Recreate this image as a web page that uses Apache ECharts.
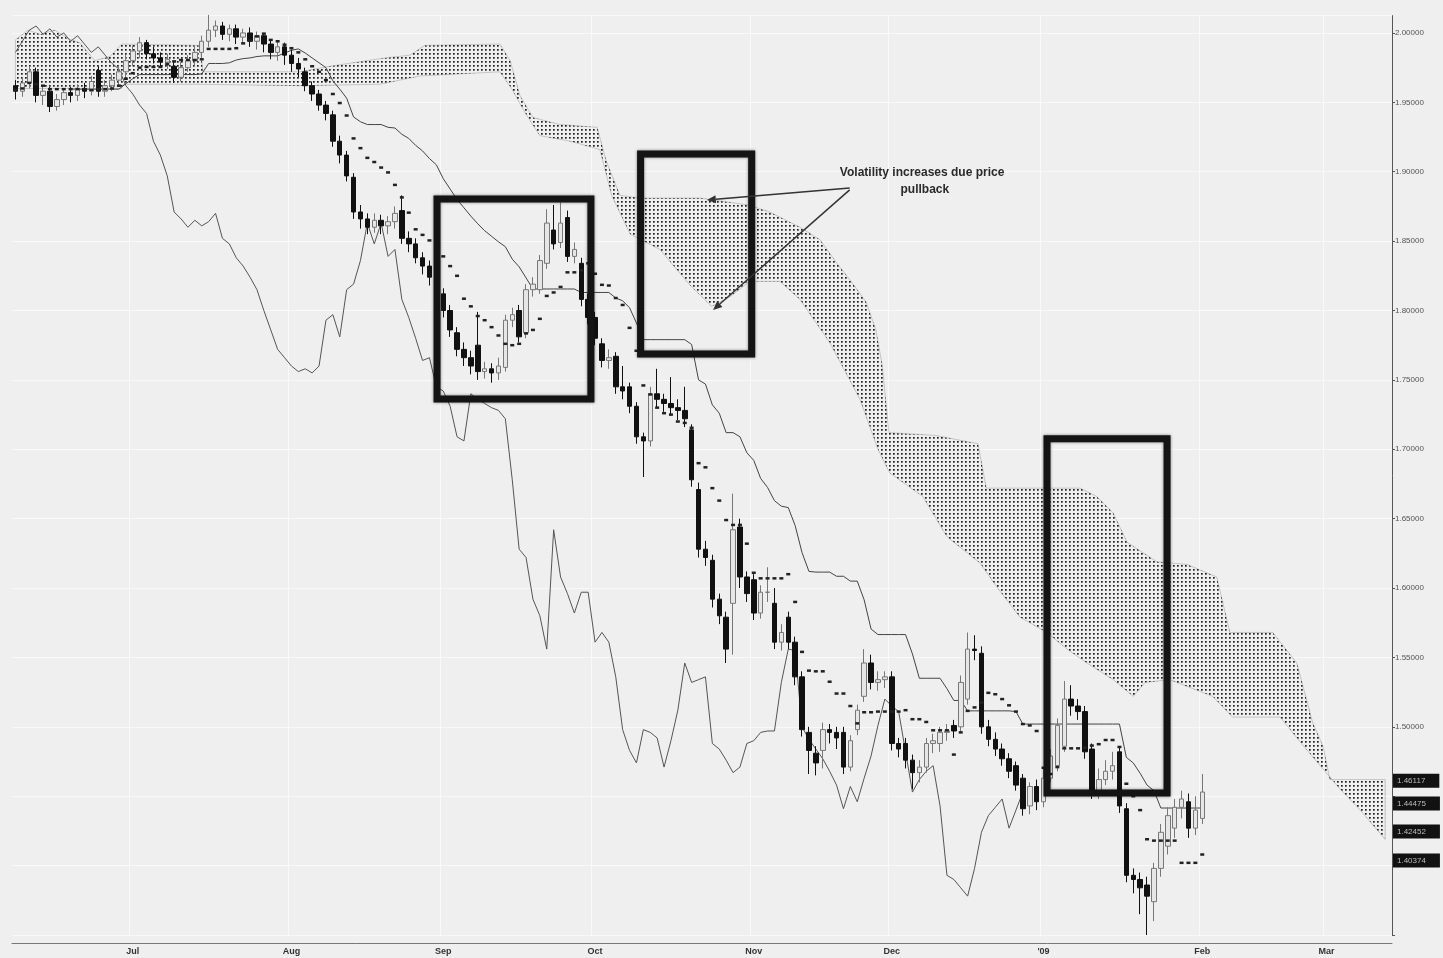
<!DOCTYPE html>
<html>
<head>
<meta charset="utf-8">
<script src="https://cdn.jsdelivr.net/npm/echarts@6/dist/echarts.min.js"></script>
<style>
html, body { margin: 0; padding: 0; background: #efefef; }
#main { width: 1443px; height: 958px; }
</style>
</head>
<body>
<div id="main"></div>
<script>
// daily bars: [open, close, low, high]
var ohlc = [
  [1.962,1.958,1.952,1.966],[1.958,1.964,1.954,1.968],[1.964,1.972,1.960,1.976],[1.972,1.955,1.950,1.975],
  [1.955,1.958,1.948,1.962],[1.958,1.947,1.943,1.961],[1.947,1.952,1.944,1.956],[1.952,1.957,1.948,1.960],
  [1.957,1.955,1.950,1.961],[1.955,1.960,1.951,1.963],[1.960,1.958,1.953,1.964],[1.958,1.965,1.955,1.969],
  [1.973,1.958,1.954,1.976],[1.958,1.962,1.954,1.966],[1.962,1.966,1.958,1.970],[1.966,1.972,1.962,1.976],
  [1.972,1.980,1.968,1.984],[1.980,1.987,1.976,1.991],[1.987,1.993,1.982,1.997],[1.993,1.985,1.981,1.995],
  [1.985,1.982,1.978,1.990],[1.982,1.979,1.975,1.986],[1.979,1.981,1.974,1.985],[1.976,1.968,1.964,1.980],
  [1.968,1.975,1.965,1.979],[1.975,1.980,1.972,1.984],[1.980,1.986,1.976,1.990],[1.986,1.994,1.982,1.998],
  [1.994,2.002,1.990,2.013],[2.002,2.005,1.997,2.009],[2.005,1.999,1.995,2.008],[1.999,2.003,1.994,2.006],
  [2.003,1.997,1.992,2.006],[1.997,2.000,1.992,2.003],[2.000,1.994,1.990,2.004],[1.994,1.998,1.988,2.001],
  [1.998,1.992,1.986,2.000],[1.992,1.986,1.981,1.995],[1.986,1.990,1.980,1.994],[1.990,1.984,1.977,1.993],
  [1.984,1.978,1.972,1.988],[1.978,1.974,1.968,1.982],[1.972,1.962,1.958,1.975],[1.962,1.956,1.951,1.965],
  [1.956,1.948,1.944,1.959],[1.948,1.942,1.937,1.951],[1.941,1.922,1.918,1.944],[1.922,1.912,1.906,1.926],
  [1.912,1.897,1.893,1.915],[1.896,1.871,1.866,1.899],[1.871,1.866,1.859,1.876],[1.866,1.860,1.855,1.870],
  [1.860,1.865,1.856,1.870],[1.865,1.861,1.855,1.869],[1.861,1.864,1.855,1.868],[1.864,1.870,1.859,1.875],
  [1.872,1.852,1.848,1.883],[1.852,1.848,1.842,1.857],[1.848,1.838,1.834,1.852],[1.838,1.832,1.826,1.842],
  [1.832,1.824,1.818,1.836],[1.824,1.815,1.810,1.828],[1.812,1.800,1.795,1.816],[1.800,1.786,1.781,1.804],
  [1.784,1.772,1.767,1.788],[1.772,1.766,1.760,1.777],[1.766,1.760,1.754,1.771],[1.775,1.756,1.750,1.799],
  [1.756,1.758,1.751,1.763],[1.758,1.755,1.748,1.762],[1.755,1.760,1.750,1.766],[1.759,1.793,1.756,1.797],
  [1.793,1.797,1.788,1.802],[1.800,1.781,1.777,1.804],[1.784,1.815,1.780,1.819],[1.815,1.819,1.810,1.824],
  [1.815,1.836,1.812,1.840],[1.834,1.863,1.830,1.873],[1.858,1.848,1.844,1.876],[1.849,1.863,1.845,1.878],
  [1.867,1.839,1.835,1.872],[1.839,1.844,1.834,1.849],[1.834,1.808,1.803,1.838],[1.808,1.795,1.790,1.812],
  [1.795,1.780,1.775,1.799],[1.776,1.764,1.759,1.780],[1.764,1.766,1.758,1.772],[1.767,1.745,1.740,1.770],
  [1.745,1.742,1.736,1.760],[1.745,1.731,1.726,1.748],[1.731,1.709,1.704,1.734],[1.709,1.706,1.680,1.712],
  [1.706,1.740,1.702,1.745],[1.740,1.736,1.730,1.758],[1.736,1.733,1.727,1.740],[1.733,1.730,1.724,1.752],
  [1.730,1.728,1.721,1.736],[1.728,1.722,1.716,1.745],[1.714,1.678,1.673,1.718],[1.671,1.628,1.622,1.676],
  [1.628,1.622,1.616,1.634],[1.620,1.592,1.586,1.624],[1.592,1.580,1.574,1.596],[1.579,1.556,1.546,1.583],
  [1.589,1.642,1.552,1.668],[1.644,1.608,1.600,1.650],[1.608,1.596,1.590,1.612],[1.606,1.582,1.577,1.610],
  [1.582,1.597,1.578,1.602],[1.597,1.597,1.590,1.615],[1.589,1.561,1.556,1.600],[1.561,1.568,1.555,1.574],
  [1.579,1.561,1.556,1.583],[1.561,1.536,1.530,1.565],[1.536,1.498,1.493,1.540],[1.496,1.483,1.466,1.500],
  [1.481,1.474,1.465,1.486],[1.483,1.498,1.470,1.503],[1.498,1.496,1.488,1.502],[1.496,1.492,1.484,1.500],
  [1.496,1.471,1.466,1.500],[1.471,1.490,1.468,1.494],[1.498,1.512,1.494,1.516],[1.522,1.546,1.518,1.556],
  [1.546,1.532,1.527,1.552],[1.532,1.534,1.526,1.540],[1.534,1.536,1.528,1.540],[1.536,1.488,1.483,1.540],
  [1.488,1.484,1.478,1.492],[1.488,1.476,1.470,1.492],[1.476,1.467,1.455,1.480],[1.467,1.471,1.460,1.476],
  [1.471,1.488,1.467,1.492],[1.488,1.490,1.481,1.495],[1.488,1.496,1.482,1.500],[1.496,1.497,1.490,1.502],
  [1.501,1.497,1.492,1.505],[1.500,1.532,1.496,1.537],[1.520,1.556,1.516,1.568],[1.556,1.555,1.548,1.566],
  [1.553,1.500,1.495,1.558],[1.500,1.491,1.486,1.505],[1.491,1.484,1.479,1.496],[1.484,1.477,1.472,1.488],
  [1.477,1.468,1.463,1.481],[1.472,1.458,1.454,1.475],[1.463,1.441,1.436,1.466],[1.443,1.457,1.437,1.460],
  [1.457,1.446,1.440,1.462],[1.446,1.463,1.442,1.470],[1.463,1.479,1.460,1.484],[1.472,1.501,1.468,1.506],
  [1.486,1.520,1.482,1.533],[1.520,1.515,1.508,1.530],[1.515,1.511,1.505,1.520],[1.511,1.482,1.477,1.515],
  [1.484,1.453,1.448,1.488],[1.453,1.462,1.448,1.470],[1.462,1.468,1.458,1.476],[1.468,1.472,1.462,1.482],
  [1.482,1.443,1.438,1.486],[1.441,1.393,1.388,1.445],[1.393,1.390,1.380,1.398],[1.390,1.384,1.365,1.395],
  [1.386,1.378,1.350,1.392],[1.374,1.398,1.360,1.402],[1.398,1.424,1.392,1.430],[1.414,1.436,1.408,1.442],
  [1.427,1.442,1.420,1.448],[1.442,1.448,1.434,1.454],[1.446,1.427,1.420,1.452],[1.427,1.440,1.422,1.450],
  [1.434,1.453,1.430,1.466]
];

// cloud edges: [day index, price]
var cloudTop = [
  [0,1.995],[1.8,2.002],[3.6,1.999],[5.7,2.002],[7.6,1.996],[9.3,1.993],[11.5,1.980],[13.7,1.983],
  [15.4,1.992],[26.7,1.991],[27.2,1.972],[41.2,1.972],[45.6,1.976],[53.6,1.982],[57.2,1.984],[59.3,1.991],
  [70.2,1.992],[71.7,1.980],[73.1,1.955],[75.0,1.939],[78.9,1.934],[84.3,1.932],[85.6,1.908],[87.6,1.883],
  [90.5,1.881],[99.2,1.881],[106.2,1.876],[109.3,1.871],[113.7,1.860],[116.6,1.851],[118.9,1.835],[121.1,1.821],
  [123.3,1.806],[124.7,1.786],[125.6,1.761],[126.6,1.712],[133.3,1.710],[139.5,1.704],[140.7,1.672],[154.3,1.672],
  [156.7,1.666],[159.1,1.654],[161.1,1.633],[165.4,1.619],[169.8,1.617],[174.1,1.608],[176.0,1.568],[182.2,1.568],
  [185.7,1.546],[188.0,1.503],[189.5,1.486],[190.5,1.462],[198.5,1.462]
];
var cloudBottom = [
  [0,1.960],[15.4,1.960],[15.6,1.963],[26.7,1.963],[41.2,1.962],[52.8,1.963],[58.6,1.969],[70.2,1.972],
  [71.9,1.960],[73.8,1.943],[76.0,1.926],[80.4,1.922],[84.7,1.916],[86.4,1.883],[89.1,1.855],[93.4,1.844],
  [97.8,1.818],[100.9,1.803],[103.6,1.810],[106.4,1.821],[110.8,1.821],[113.7,1.808],[118.0,1.777],[122.4,1.736],
  [125.0,1.700],[126.7,1.683],[131.5,1.666],[135.0,1.637],[139.8,1.618],[142.2,1.601],[145.6,1.579],[149.5,1.568],
  [152.4,1.556],[155.3,1.546],[159.1,1.534],[162.0,1.522],[163.7,1.532],[167.3,1.534],[173.5,1.522],[176.4,1.507],
  [183.3,1.507],[186.2,1.489],[192.0,1.455],[194.9,1.440],[198.5,1.419]
];

var monthIdx = [17, 40, 62, 84, 107, 127, 149, 172, 190];
var monthNames = ['Jul', 'Aug', 'Sep', 'Oct', 'Nov', 'Dec', "'09", 'Feb', 'Mar'];
var priceTags = [1.46117, 1.44475, 1.42452, 1.40374];

// annotations: boxes [i0, top, i1, bottom], note text, arrows [from, to]
var boxes = [[61.1, 1.8804, 83.4, 1.7363], [90.6, 1.9128, 106.7, 1.7687], [149.5, 1.7075, 166.9, 1.4524]];
var noteLines = ['Volatility increases due price', 'pullback'];
var noteAt = [[131.4, 1.8992], [131.8, 1.8870]];
var arrows = [[[120.9, 1.8883], [100.2, 1.8797]], [[120.9, 1.8869], [101.1, 1.8004]]];

var N = 200;
var cats = [];
for (var i = 0; i < N; i++) cats.push(String(i));

// ichimoku lines from the bars
function midLine(period) {
  return ohlc.map(function (d, i) {
    var hi = -Infinity, lo = Infinity;
    for (var k = Math.max(0, i - period + 1); k <= i; k++) {
      hi = Math.max(hi, ohlc[k][3]);
      lo = Math.min(lo, ohlc[k][2]);
    }
    return +((hi + lo) / 2).toFixed(4);
  });
}
var tenkan = midLine(9);
var kijun = midLine(26).map(function (v, i) { return i < 8 ? '-' : v; });
var chikou = [];
for (var j = 0; j + 26 < ohlc.length; j++) chikou.push(ohlc[j + 26][1]);

// dotted fill for the cloud
var cv = document.createElement('canvas');
cv.width = 4; cv.height = 4;
var cx = cv.getContext('2d');
cx.fillStyle = '#1e1e1e';
cx.fillRect(1, 1, 1.7, 1.7);
var dots = { image: cv, repeat: 'repeat' };

var myChart = echarts.init(document.getElementById('main'));
var option = {
  animation: false,
  backgroundColor: '#efefef',
  grid: { left: 12, right: 51, top: 15.6, bottom: 23 },
  xAxis: [{
    type: 'category',
    data: cats,
    offset: 8,
    axisLine: { lineStyle: { color: '#777' } },
    axisTick: { interval: function (i) { return i % 5 === 2; }, length: 3, lineStyle: { color: '#777' } },
    axisLabel: {
      interval: function (i) { return monthIdx.indexOf(i) >= 0; },
      formatter: function (v, i) { var k = monthIdx.indexOf(i); return k >= 0 ? monthNames[k] : ''; },
      fontSize: 9, fontWeight: 'bold', color: '#333', margin: 4,
      fontFamily: 'Liberation Sans'
    },
    splitLine: { show: true, interval: function (i) { return monthIdx.indexOf(i) >= 0; }, lineStyle: { color: '#f9f9f9' } }
  }, {
    type: 'value', min: -0.5, max: N - 0.5, show: false
  }],
  yAxis: {
    type: 'value',
    position: 'right',
    min: 1.35, max: 2.0125, interval: 0.05,
    axisLine: { show: true, onZero: false, lineStyle: { color: '#555' } },
    axisTick: { show: true, length: 3, lineStyle: { color: '#555' } },
    axisLabel: {
      fontSize: 8, color: '#555', margin: 3, showMaxLabel: false,
      fontFamily: 'Liberation Sans',
      formatter: function (v) { return (v > 1.4999 && v < 2.0001) ? v.toFixed(5) : ''; }
    },
    splitLine: { lineStyle: { color: '#f9f9f9' } }
  },
  series: [
    {
      name: 'cloud',
      type: 'custom',
      xAxisIndex: 1,
      data: [[100, 1.8]],
      silent: true,
      z: 1,
      renderItem: function (params, api) {
        var pts = cloudTop.map(function (p) { return api.coord(p); });
        var low = cloudBottom.slice().reverse().map(function (p) { return api.coord(p); });
        return {
          type: 'polygon',
          shape: { points: pts.concat(low) },
          style: { fill: dots, stroke: 'rgba(60,60,60,0.4)', lineWidth: 0.6 }
        };
      }
    },
    {
      name: 'chikou',
      type: 'line',
      data: chikou,
      showSymbol: false,
      lineStyle: { color: '#555', width: 1 },
      z: 2
    },
    {
      name: 'kijun',
      type: 'line',
      data: kijun,
      showSymbol: false,
      lineStyle: { color: '#444', width: 1 },
      z: 2
    },
    {
      name: 'price',
      type: 'candlestick',
      data: ohlc,
      barWidth: 5,
      z: 3,
      itemStyle: {
        color: '#e6e6e6', color0: '#111',
        borderColor: '#777', borderColor0: '#111', borderWidth: 1
      },
      markLine: {
        silent: true,
        symbol: ['none', 'none'],
        precision: 5,
        lineStyle: { width: 1, color: 'rgba(0,0,0,0)' },
        label: {
          show: true, position: 'end', distance: 1,
          formatter: '{b}',
          color: '#bbb', backgroundColor: '#111', padding: [3, 14, 3, 4],
          fontSize: 8, fontFamily: 'Liberation Sans'
        },
        data: priceTags.map(function (v) { return { yAxis: v, name: v.toFixed(5) }; })
      }
    },
    {
      name: 'tenkan',
      type: 'line',
      data: tenkan,
      showAllSymbol: true,
      symbol: 'rect',
      symbolSize: [4, 2.5],
      itemStyle: { color: '#222' },
      lineStyle: { width: 0, opacity: 0 },
      z: 4
    }
  ]
};
myChart.setOption(option);

// annotation layer placed with the chart's own coordinate conversion
function px(p) { return myChart.convertToPixel({ xAxisIndex: 1, yAxisIndex: 0 }, p); }
var g = [];
boxes.forEach(function (b) {
  var a = px([b[0], b[1]]), c = px([b[2], b[3]]);
  g.push({
    type: 'rect', z: 100,
    shape: { x: a[0], y: a[1], width: c[0] - a[0], height: c[1] - a[1] },
    style: { fill: 'none', stroke: '#141414', lineWidth: 7, shadowBlur: 3, shadowColor: 'rgba(0,0,0,0.5)' }
  });
});
noteLines.forEach(function (t, k) {
  var p = px(noteAt[k]);
  g.push({
    type: 'text', z: 100, x: p[0], y: p[1],
    style: { text: t, fill: '#2a2a2a', font: 'bold 12px "Liberation Sans", Arial', align: 'center', verticalAlign: 'middle' }
  });
});
arrows.forEach(function (ar) {
  var s = px(ar[0]), e = px(ar[1]);
  var ang = Math.atan2(e[1] - s[1], e[0] - s[0]);
  var L = 9, W = 4;
  var bx = e[0] - L * Math.cos(ang), by = e[1] - L * Math.sin(ang);
  g.push({
    type: 'line', z: 100,
    shape: { x1: s[0], y1: s[1], x2: bx, y2: by },
    style: { stroke: '#333', lineWidth: 1.5 }
  });
  g.push({
    type: 'polygon', z: 100,
    shape: { points: [e, [bx + W * Math.sin(ang), by - W * Math.cos(ang)], [bx - W * Math.sin(ang), by + W * Math.cos(ang)]] },
    style: { fill: '#333' }
  });
});
myChart.setOption({ graphic: g });
</script>
</body>
</html>
